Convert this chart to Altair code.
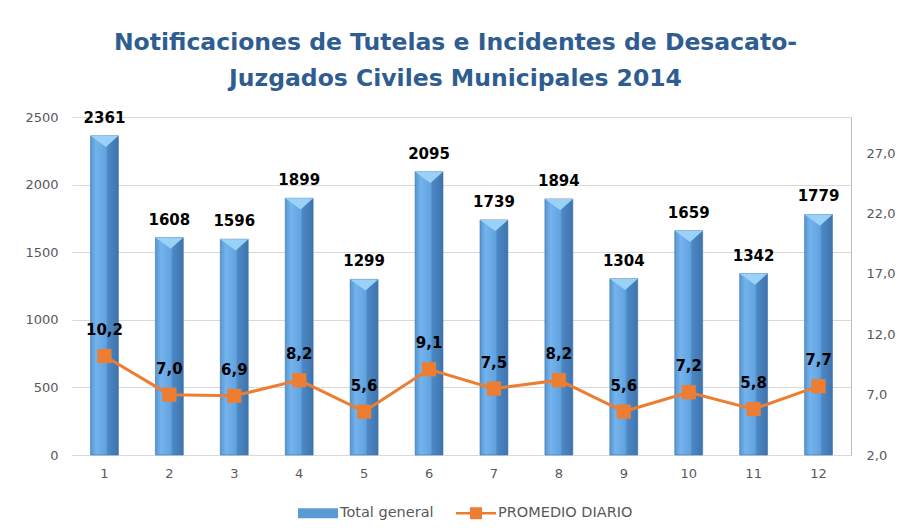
import altair as alt
import pandas as pd

months = [str(i) for i in range(1, 13)]
total_general = [2361, 1608, 1596, 1899, 1299, 2095, 1739, 1894, 1304, 1659, 1342, 1779]
promedio_diario = [10.2, 7.0, 6.9, 8.2, 5.6, 9.1, 7.5, 8.2, 5.6, 7.2, 5.8, 7.7]
series_names = ["Total general", "PROMEDIO DIARIO"]
left_ticks = [0, 500, 1000, 1500, 2000, 2500]
right_ticks = [2, 7, 12, 17, 22, 27]
title_lines = ["Notificaciones de Tutelas e Incidentes de Desacato-",
               "Juzgados Civiles Municipales 2014"]

df = pd.DataFrame({"mes": months, "total": total_general, "prom": promedio_diario})
df["prom_lbl"] = [f"{v:.1f}".replace(".", ",") for v in promedio_diario]
legend_df = pd.DataFrame({"serie": series_names})

FONT = "DejaVu Sans"
GRAY = "#595959"

x_enc = alt.X("mes:N", sort=months,
              scale=alt.Scale(paddingInner=0.57, paddingOuter=0.285),
              axis=alt.Axis(title=None, labelAngle=0, ticks=False, domain=True,
                            domainColor="#D9D9D9", labelPadding=12,
                            labelFontSize=13, labelColor=GRAY, labelFont=FONT))

y_left = alt.Y("total:Q", scale=alt.Scale(domain=[0, 2500], nice=False),
               axis=alt.Axis(title=None, values=left_ticks, grid=True, gridColor="#D9D9D9",
                             domain=False, ticks=False, labelPadding=14, format="d",
                             labelFontSize=13, labelColor=GRAY, labelFont=FONT))

grad = alt.Gradient(
    gradient="linear",
    stops=[
        alt.GradientStop(color="#5595D2", offset=0),
        alt.GradientStop(color="#74B3EC", offset=0.2),
        alt.GradientStop(color="#62A3E0", offset=0.55),
        alt.GradientStop(color="#4C88C5", offset=0.62),
        alt.GradientStop(color="#3E74AD", offset=1),
    ],
    x1=0, x2=1, y1=0, y2=0,
)

bars = alt.Chart(df).mark_bar(fill=grad, stroke="#3F74AA", strokeWidth=0.6).encode(
    x=x_enc, y=y_left)

bevel = alt.Chart(df).mark_point(
    shape="M-1,0L1,0L0.1,0.8Z", filled=True, size=784, color="#9AD2F7", opacity=1
).encode(x=x_enc, y=y_left)

bar_text = alt.Chart(df).mark_text(
    dy=-18, fontSize=15, fontWeight="bold", font=FONT, color="black", baseline="middle"
).encode(x=x_enc, y=y_left, text="total:Q")

left_layer = alt.layer(bars, bevel, bar_text)

y_right = alt.Y("prom:Q", scale=alt.Scale(domain=[2, 30], nice=False),
                axis=alt.Axis(title=None, orient="right", values=right_ticks, grid=False,
                              domain=True, domainColor="#BFBFBF", ticks=False, labelPadding=15,
                              labelExpr="replace(format(datum.value, '.1f'), '.', ',')",
                              labelFontSize=13, labelColor=GRAY, labelFont=FONT))

line = alt.Chart(df).mark_line(color="#ED7D31", strokeWidth=3).encode(x=x_enc, y=y_right)
pts = alt.Chart(df).mark_point(shape="square", filled=True, size=200, color="#ED7D31",
                               opacity=1).encode(x=x_enc, y=y_right)
pt_text = alt.Chart(df).mark_text(
    dy=-26, fontSize=15, fontWeight="bold", font=FONT, color="black", baseline="middle"
).encode(x=x_enc, y=y_right, text="prom_lbl:N")

right_layer = alt.layer(line, pts, pt_text)

bar_path = "M-1,-0.5H3V0.5H-1Z"
line_path = "M-1,-0.13H3V0.13H-1Z M0.4,-0.6H1.6V0.6H0.4Z"
leg = alt.Legend(title=None, orient="none", direction="horizontal", legendX=226, legendY=386,
                 symbolSize=400, symbolStrokeWidth=0, symbolOpacity=1, labelOffset=22,
                 columnPadding=22, labelFontSize=14.5, labelColor=GRAY, labelFont=FONT)
legend_layer = alt.Chart(legend_df).mark_point(filled=True, opacity=0).encode(
    x=alt.value(0), y=alt.value(338),
    color=alt.Color("serie:N", scale=alt.Scale(domain=series_names,
                                               range=["#5B9BD5", "#ED7D31"]), legend=leg),
    shape=alt.Shape("serie:N", scale=alt.Scale(domain=series_names,
                                               range=[bar_path, line_path]), legend=leg),
)

chart = alt.layer(left_layer, right_layer, legend_layer).resolve_scale(
    y="independent"
).properties(
    width=779, height=338,
    autosize=alt.AutoSizeParams(type="none"),
    padding={"left": 64, "top": 109, "right": 46, "bottom": 69},
    title=alt.TitleParams(text=title_lines, fontSize=23.5, font=FONT, fontWeight="bold",
                          color="#2F5D91", anchor="middle", offset=20, lineHeight=36, dx=-6,
                          frame="group"),
    background="white",
).configure_view(stroke=None)

chart.save("out.html", embed_options={"renderer": "svg", "actions": False})
